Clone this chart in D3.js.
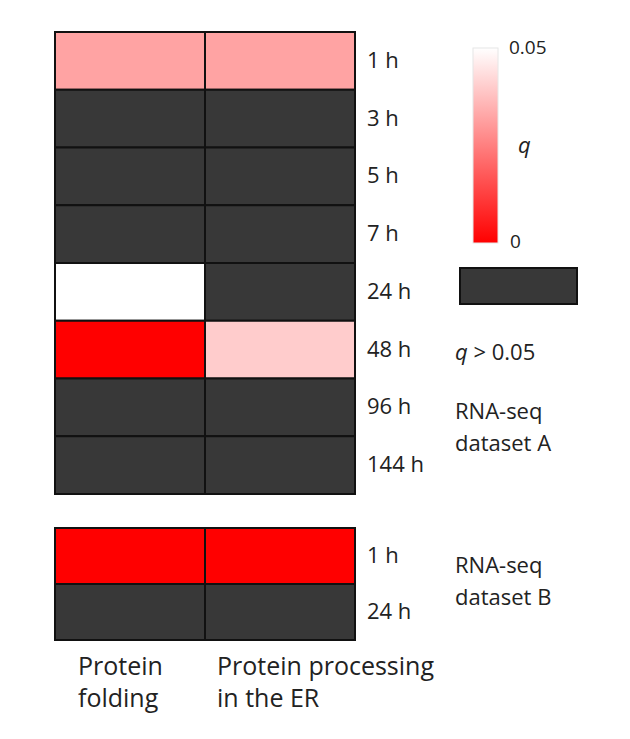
<!DOCTYPE html>
<html><head><meta charset="utf-8">
<script src="https://cdn.jsdelivr.net/npm/d3@7"></script>
<style>body{margin:0;background:#fff}text{font-family:"Open Sans",sans-serif;fill:#222}</style>
</head><body>
<svg id="chart" width="630" height="739"></svg>
<script>
const columns = ["Protein folding", "Protein processing in the ER"];
const rowsA = ["1 h", "3 h", "5 h", "7 h", "24 h", "48 h", "96 h", "144 h"];
const rowsB = ["1 h", "24 h"];
// q values per row [col1, col2]; null = q > 0.05
const qA = [[0.032, 0.032], [null, null], [null, null], [null, null], [0.05, null], [0.0, 0.040], [null, null], [null, null]];
const qB = [[0.0, 0.0], [null, null]];

const svg = d3.select("#chart");
const dark = "#383838";
const color = d3.scaleLinear().domain([0, 0.05]).range(["#ff0000", "#ffffff"]);
const x = d3.scaleBand().domain(d3.range(columns.length)).range([55, 355]);

function block(rows, q, y0, y1) {
  const y = d3.scaleBand().domain(d3.range(rows.length)).range([y0, y1]);
  const cells = [];
  q.forEach((r, i) => r.forEach((v, j) => cells.push({ i, j, v })));
  svg.append("g").selectAll("rect").data(cells).join("rect")
    .attr("x", d => x(d.j)).attr("y", d => y(d.i))
    .attr("width", x.bandwidth()).attr("height", y.bandwidth())
    .attr("fill", d => d.v == null ? dark : color(d.v))
    .attr("stroke", "#111").attr("stroke-width", 2);
  svg.append("g").selectAll("text").data(rows).join("text")
    .attr("x", 367).attr("y", (d, i) => y(i) + y.bandwidth() / 2 + 7)
    .attr("font-size", 22).text(d => d);
}
block(rowsA, qA, 32, 494);
block(rowsB, qB, 528, 640);

// colour bar
const defs = svg.append("defs");
const grad = defs.append("linearGradient").attr("id", "qgrad").attr("x1", 0).attr("x2", 0).attr("y1", 0).attr("y2", 1);
grad.append("stop").attr("offset", "0%").attr("stop-color", color(0.05));
grad.append("stop").attr("offset", "100%").attr("stop-color", color(0));
const cb = d3.scaleLinear().domain([0.05, 0]).range([48, 243]);
svg.append("rect").attr("x", 473).attr("y", cb(0.05)).attr("width", 25).attr("height", cb(0) - cb(0.05))
  .attr("fill", "url(#qgrad)").attr("stroke", "#e6e6e6").attr("stroke-width", 1);
svg.append("text").attr("x", 509).attr("y", cb(0.05) + 6).attr("font-size", 19).text("0.05");
svg.append("text").attr("x", 510).attr("y", cb(0) + 5).attr("font-size", 19).text("0");
svg.append("text").attr("x", 518).attr("y", 153).attr("font-size", 22).attr("font-style", "italic").text("q");

svg.append("rect").attr("x", 460).attr("y", 268).attr("width", 117).attr("height", 36)
  .attr("fill", dark).attr("stroke", "#111").attr("stroke-width", 2);
const qt = svg.append("text").attr("x", 455).attr("y", 360).attr("font-size", 22);
qt.append("tspan").attr("font-style", "italic").text("q");
qt.append("tspan").text(" > 0.05");

function lines(xp, yp, arr, size) {
  const t = svg.append("text").attr("x", xp).attr("y", yp).attr("font-size", size);
  arr.forEach((s, i) => t.append("tspan").attr("x", xp).attr("dy", i ? 32 : 0).text(s));
}
lines(455, 419, ["RNA-seq", "dataset A"], 22);
lines(455, 573, ["RNA-seq", "dataset B"], 22);
lines(78, 675, ["Protein", "folding"], 25);
lines(217, 675, ["Protein processing", "in the ER"], 25);
</script>
</body></html>
